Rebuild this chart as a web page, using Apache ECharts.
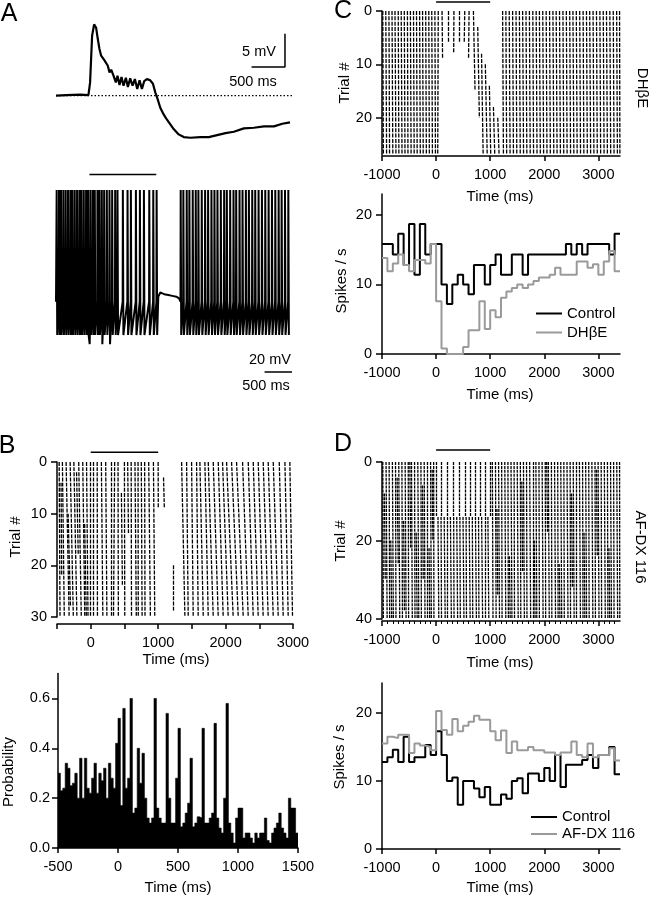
<!DOCTYPE html>
<html>
<head>
<meta charset="utf-8">
<script src="https://cdn.jsdelivr.net/npm/echarts@6/dist/echarts.min.js"></script>
<style>
  html, body { margin: 0; padding: 0; background: #fff; }
  #chart { width: 649px; height: 899px; }
</style>
</head>
<body>
<div id="chart"></div>
<script>
// ---------- Panel A: averaged membrane potential (ms, mV) ----------
const traceT = [-500, -340, -140, -15, 10, 40, 70, 100, 125, 150, 175, 200, 225, 250, 275, 300, 325, 360, 395, 420,
  450, 480, 510, 545, 575, 610, 645, 680, 715, 750, 785, 820, 860, 910, 950, 985, 1020, 1060, 1110, 1160,
  1210, 1260, 1335, 1410, 1510, 1660, 1785, 1910, 2035, 2160, 2310, 2460, 2610, 2760, 2885, 3000];
const traceV = [0, 0.1, 0.15, 0.1, 2, 9, 10.7, 10.2, 8.5, 7.0, 6.0, 6.2, 5.3, 5.5, 4.5, 3.5, 3.9, 3.0, 2.0, 3.0,
  1.6, 2.8, 1.5, 2.7, 1.3, 2.6, 1.5, 2.5, 1.0, 2.3, 1.0, 2.2, 2.5, 2.3, 1.8, 0.5, -0.5, -1.8, -2.8, -3.6,
  -4.3, -5.0, -5.8, -6.2, -6.3, -6.2, -6.2, -5.9, -5.6, -5.4, -4.9, -4.8, -4.6, -4.6, -4.2, -4.0];

// Panel A: whole-cell spiking (spike times in ms)
const spikeTimesA = [-490, -455, -425, -390, -355, -320, -285, -255, -220, -185, -150, -120, -85, -50, -20, 15, 50, 80,
  120, 150, 185, 220, 260, 300, 340, 385, 420, 500, 570, 620, 695, 755, 815, 895, 955, 1005,
  1365, 1405, 1455, 1495, 1545, 1590, 1630, 1680, 1730, 1775, 1825, 1870, 1915, 1965, 2015, 2055, 2105,
  2155, 2195, 2245, 2290, 2340, 2385, 2435, 2480, 2530, 2580, 2630, 2680, 2730, 2780, 2830, 2875, 2925, 2975];
const deepDipsA = [[4, -75.5], [193, -75.5], [308, -75.5]];
const plateauA = [[1030, -47], [1060, -44.5], [1090, -45], [1120, -45.5], [1180, -46], [1240, -46.5], [1300, -47], [1340, -48]];

// ---------- Panel B ----------
// raster columns: [time at first trial, time at last trial, first trial, last trial]
const rasterB = [
  [-468, -455, 0, 30], [-420, -392, 0, 30], [-365, -320, 0, 30], [-305, -258, 0, 30], [-250, -205, 0, 30],
  [-178, -140, 0, 30], [-118, -88, 0, 30], [-62, -40, 0, 30], [-14, -8, 0, 30],
  [-440, -430, 4, 22], [-335, -300, 10, 28], [-210, -185, 2, 18], [-90, -65, 12, 30],
  [38, 42, 0, 30], [96, 100, 0, 30], [158, 180, 0, 30], [222, 240, 0, 30], [298, 302, 0, 30], [355, 338, 0, 30],
  [405, 410, 0, 30], [455, 470, 6, 24], [500, 505, 0, 30], [548, 560, 0, 14], [600, 605, 0, 30], [656, 676, 0, 30],
  [702, 705, 0, 30], [750, 762, 0, 30], [800, 805, 0, 30], [860, 885, 0, 30], [930, 950, 0, 30], [1000, 1002, 0, 9],
  [1080, 1092, 3, 9], [1228, 1228, 20, 29],
  [1348, 1397, 0, 30], [1422, 1446, 0, 30], [1496, 1520, 0, 30], [1570, 1594, 0, 30], [1619, 1669, 0, 30],
  [1693, 1743, 0, 30], [1743, 1817, 0, 30], [1817, 1891, 0, 30], [1891, 1965, 0, 30], [1955, 2039, 0, 30],
  [2015, 2113, 0, 30], [2089, 2188, 0, 30], [2163, 2262, 0, 30], [2252, 2336, 0, 30], [2336, 2410, 0, 30],
  [2410, 2484, 0, 30], [2484, 2558, 0, 30], [2558, 2632, 0, 30], [2632, 2707, 0, 30], [2707, 2781, 0, 30],
  [2796, 2855, 0, 30], [2880, 2929, 0, 30], [2953, 2993, 0, 30]
];
// spike probability per 20 ms bin, from -500 ms
const histStartB = -500, histBinB = 20;
const histB = [
  0.30, 0.23, 0.24, 0.34, 0.32, 0.25, 0.26, 0.30, 0.20, 0.36, 0.20, 0.36, 0.24, 0.22, 0.28, 0.34, 0.22, 0.30, 0.27, 0.32, 0.20, 0.34, 0.28, 0.24, 0.42,
  0.52, 0.17, 0.56, 0.24, 0.28, 0.60, 0.14, 0.16, 0.40, 0.26, 0.38, 0.20, 0.12, 0.10, 0.12, 0.60, 0.16, 0.12, 0.10, 0.10, 0.54, 0.20, 0.10, 0.10, 0.28,
  0.48, 0.085, 0.10, 0.14, 0.18, 0.36, 0.085, 0.10, 0.125, 0.12, 0.48, 0.10, 0.10, 0.12, 0.14, 0.50, 0.12, 0.08, 0.06, 0.20, 0.58, 0.10, 0.06, 0.02, 0.12,
  0.16, 0.16, 0.04, 0.06, 0.06, 0.04, 0.02, 0.06, 0.04, 0.06, 0.06, 0.12, 0.03, 0.02, 0.06, 0.08, 0.10, 0.14, 0.08, 0.06, 0.04, 0.20, 0.16, 0.16, 0.06
];

// ---------- Panel C ----------
const rasterC = [
  [-985, -975, 0, 27], [-930, -915, 0, 27], [-872, -860, 0, 27], [-815, -800, 0, 27], [-760, -742, 0, 27], [-700, -688, 0, 27],
  [-645, -630, 0, 27], [-588, -575, 0, 27], [-530, -520, 0, 27], [-475, -462, 0, 27], [-418, -405, 0, 27], [-362, -350, 0, 27],
  [-305, -292, 0, 27], [-250, -238, 0, 27], [-192, -180, 0, 27], [-135, -125, 0, 27], [-80, -68, 0, 27], [-22, -12, 0, 27],
  [40, 30, 0, 27], [110, 120, 0, 9], [230, 230, 0, 6], [330, 325, 0, 8], [430, 435, 0, 6], [530, 520, 0, 6], [610, 600, 0, 9],
  [690, 720, 0, 15], [770, 800, 3, 20], [840, 870, 8, 27], [910, 945, 10, 27], [985, 1010, 14, 27], [1060, 1085, 18, 27], [1140, 1165, 20, 27],
  [1230, 1245, 0, 27], [1290, 1305, 0, 27], [1352, 1368, 0, 27], [1415, 1430, 0, 27], [1478, 1492, 0, 27], [1540, 1556, 0, 27],
  [1600, 1617, 0, 27], [1662, 1678, 0, 27], [1725, 1740, 0, 27], [1788, 1802, 0, 27], [1850, 1866, 0, 27], [1910, 1927, 0, 27],
  [1972, 1988, 0, 27], [2035, 2050, 0, 27], [2098, 2112, 0, 27], [2160, 2176, 0, 27], [2220, 2237, 0, 27], [2282, 2298, 0, 27],
  [2345, 2360, 0, 27], [2408, 2422, 0, 27], [2470, 2486, 0, 27], [2530, 2547, 0, 27], [2592, 2608, 0, 27], [2655, 2670, 0, 27],
  [2718, 2732, 0, 27], [2780, 2796, 0, 27], [2840, 2857, 0, 27], [2902, 2918, 0, 27], [2965, 2980, 0, 27], [3028, 3042, 0, 27],
  [3090, 3106, 0, 27], [3150, 3167, 0, 27], [3212, 3228, 0, 27], [3275, 3290, 0, 27], [3338, 3352, 0, 27], [3392, 3398, 0, 27]
];
const drugTrialsC = [2.2, 27];
// PSTH, 100 ms bins from -1000 ms (spikes / s)
const psthStart = -1000, psthBin = 100;
const controlC = [15.8, 15.8, 14.3, 17.3, 12.8, 18.7, 11.4, 18.7, 14.3, 15.8, 15.8, 10.0, 7.2, 10.0, 11.4, 10.0, 8.6, 12.8, 12.8, 10.0, 12.8, 14.3,
  11.4, 11.4, 14.3, 14.3, 11.4, 14.3, 14.3, 14.3, 14.3, 14.3, 14.3, 14.3, 15.8, 14.3, 15.8, 14.3, 15.8, 15.8, 15.8, 15.8, 14.3, 17.3];
const dhbeC = [13.8, 11.9, 13.0, 14.3, 12.8, 11.9, 13.5, 13.5, 13.0, 15.8, 7.6, 0.8, 0, 0, 0, 1.0, 3.4, 3.4, 7.6, 3.6, 6.3, 5.3,
  8.1, 9.0, 9.5, 10.0, 9.5, 10.0, 10.5, 11.0, 11.0, 11.4, 12.4, 11.4, 11.4, 11.4, 13.3, 13.3, 12.4, 12.9, 11.4, 13.3, 14.8, 11.9];

// ---------- Panel D ----------
const rasterD = [
  [-985, -975, 0, 40], [-925, -905, 0, 40], [-868, -858, 0, 40], [-808, -790, 0, 40], [-750, -742, 0, 40], [-690, -672, 0, 40],
  [-632, -622, 0, 40], [-572, -555, 0, 40], [-515, -508, 0, 40], [-455, -440, 0, 40], [-398, -390, 0, 40], [-338, -320, 0, 40],
  [-280, -272, 0, 40], [-220, -205, 0, 40], [-162, -155, 0, 40], [-102, -88, 0, 40], [-45, -40, 0, 40],
  [-955, -940, 8, 30], [-838, -820, 20, 40], [-720, -700, 4, 26], [-600, -585, 15, 38], [-485, -470, 0, 22],
  [-368, -350, 18, 40], [-250, -238, 6, 30], [-130, -118, 22, 40], [-72, -60, 2, 20],
  [10, 12, 0, 14], [103, 103, 0, 14], [213, 215, 0, 14], [318, 318, 0, 14], [423, 425, 0, 14], [534, 534, 0, 14],
  [626, 628, 0, 14], [719, 719, 0, 14], [811, 813, 0, 14], [903, 903, 0, 14], [996, 998, 0, 14],
  [35, 50, 14, 40], [92, 100, 14, 40], [150, 168, 14, 40], [208, 215, 14, 40], [265, 282, 14, 40], [325, 332, 14, 40],
  [382, 398, 14, 40], [440, 448, 14, 40], [498, 515, 14, 40], [555, 562, 14, 40], [612, 630, 14, 40], [670, 678, 14, 40],
  [728, 745, 14, 40], [785, 792, 14, 40], [842, 860, 14, 40], [900, 908, 14, 40], [958, 975, 14, 40],
  [1040, 1052, 0, 40], [1098, 1110, 0, 40], [1155, 1172, 0, 40], [1212, 1220, 0, 40], [1270, 1288, 0, 40], [1328, 1336, 0, 40],
  [1385, 1402, 0, 40], [1442, 1450, 0, 40], [1500, 1518, 0, 40], [1558, 1566, 0, 40], [1615, 1632, 0, 40], [1672, 1680, 0, 40],
  [1730, 1748, 0, 40], [1788, 1796, 0, 40], [1845, 1862, 0, 40], [1902, 1910, 0, 40], [1960, 1978, 0, 40], [2018, 2026, 0, 40],
  [2075, 2092, 0, 40], [2132, 2140, 0, 40], [2190, 2208, 0, 40], [2248, 2256, 0, 40], [2305, 2322, 0, 40], [2362, 2370, 0, 40],
  [2420, 2438, 0, 40], [2478, 2486, 0, 40], [2535, 2552, 0, 40], [2592, 2600, 0, 40], [2650, 2668, 0, 40], [2708, 2716, 0, 40],
  [2765, 2782, 0, 40], [2822, 2830, 0, 40], [2880, 2898, 0, 40], [2938, 2946, 0, 40], [2995, 3012, 0, 40], [3052, 3060, 0, 40],
  [3110, 3128, 0, 40], [3168, 3176, 0, 40], [3225, 3242, 0, 40], [3282, 3290, 0, 40], [3340, 3356, 0, 40], [3392, 3396, 0, 40],
  [1125, 1140, 12, 34], [1355, 1370, 24, 40], [1585, 1600, 5, 28], [1815, 1830, 20, 40], [2045, 2060, 0, 18],
  [2275, 2290, 26, 40], [2505, 2520, 8, 32], [2735, 2750, 18, 40], [2965, 2980, 2, 24], [3195, 3210, 22, 40]
];
const drugTrialsD = [6.4, 40.8];
const controlD = [12.8, 13.5, 14.6, 12.8, 16.5, 12.8, 13.5, 13.5, 15.3, 13.8, 17.3, 13.8, 10.0, 10.5, 6.5, 10.0, 10.0, 8.9, 7.6, 9.1, 6.5, 6.5,
  8.0, 7.4, 10.0, 10.4, 8.2, 11.1, 11.1, 10.0, 11.9, 10.0, 13.8, 9.1, 12.4, 12.4, 12.4, 13.1, 13.8, 11.9, 13.8, 13.8, 15.0, 11.0];
const afdxD = [15.5, 16.5, 16.3, 16.8, 16.8, 14.1, 15.5, 15.2, 15.0, 14.5, 20.3, 17.5, 16.8, 19.1, 17.3, 18.1, 18.7, 19.6, 19.0, 19.0, 17.3, 16.0,
  17.4, 14.1, 15.8, 14.5, 14.5, 15.0, 14.5, 14.5, 14.2, 14.2, 13.8, 14.2, 14.2, 15.8, 13.8, 13.5, 15.5, 13.5, 13.8, 13.8, 14.8, 13.0];

const stim = [0, 1000];

// ---------- helpers ----------
const FONT = '"Liberation Sans", Arial, sans-serif';
const axisStyle = { color: '#000', width: 1.5 };
const plain = v => String(v);

function xAx(grid, min, max, ticks, labels, extra) {
  return Object.assign({
    type: 'value', gridIndex: grid, min: min, max: max, position: 'bottom',
    axisLine: { show: true, onZero: false, lineStyle: axisStyle },
    axisTick: { show: true, length: 5, customValues: ticks, lineStyle: axisStyle },
    axisLabel: { customValues: labels, margin: 11, color: '#000', fontSize: 14.5, fontFamily: FONT, formatter: plain },
    splitLine: { show: false }
  }, extra || {});
}
function yAx(grid, min, max, ticks, extra) {
  return Object.assign({
    type: 'value', gridIndex: grid, min: min, max: max, position: 'left',
    axisLine: { show: true, onZero: false, lineStyle: axisStyle },
    axisTick: { show: true, length: 6, customValues: ticks, lineStyle: axisStyle },
    axisLabel: { customValues: ticks, margin: 10, color: '#000', fontSize: 14.5, fontFamily: FONT, formatter: plain },
    splitLine: { show: false }
  }, extra || {});
}
const hidden = (grid, min, max) => ({ type: 'value', gridIndex: grid, min: min, max: max, show: false });

function steps(start, bin, vals) {
  const d = vals.map((v, i) => [start + i * bin, v]);
  d.push([start + vals.length * bin, vals[vals.length - 1]]);
  return d;
}
function rasterData(cols) {
  return cols.map(c => ({ coords: [[c[0], c[2]], [c[1], c[3]]] }));
}
function buildTraceA() {
  const pts = [[-500, -50]];
  spikeTimesA.forEach(t => { pts.push([t - 3, -50], [t, 17], [t + 8, -70]); });
  deepDipsA.forEach(p => pts.push(p));
  plateauA.forEach(p => pts.push(p));
  pts.sort((a, b) => a[0] - b[0]);
  return pts;
}
function plainLine(xi, data, color, width, extra) {
  return Object.assign({
    type: 'line', xAxisIndex: xi, yAxisIndex: xi, data: data, showSymbol: false, symbol: 'none',
    lineStyle: { color: color, width: width }, itemStyle: { color: color }, animation: false, silent: true
  }, extra || {});
}
function raster(xi, cols, dash) {
  return {
    type: 'lines', coordinateSystem: 'cartesian2d', xAxisIndex: xi, yAxisIndex: xi, silent: true,
    lineStyle: { color: '#000', width: 1.3, opacity: 1, type: dash }, data: rasterData(cols), animation: false
  };
}
function label(text, x, y, size, rot) {
  return {
    type: 'text', x: x, y: y, rotation: rot || 0, silent: true,
    style: { text: text, fill: '#000', font: size + 'px ' + FONT, align: 'center', verticalAlign: 'middle',
             textAlign: 'center', textVerticalAlign: 'middle' }
  };
}
const R = Math.PI / 2;

const option = {
  animation: false,
  backgroundColor: '#fff',
  grid: [
    { left: 56, top: 15.7, width: 234, height: 126.7 },
    { left: 56, top: 185, width: 234, height: 166.7 },
    { left: 57, top: 462, width: 236, height: 155 },
    { left: 58, top: 673.5, width: 240, height: 174.5 },
    { left: 382, top: 11, width: 238, height: 144 },
    { left: 382, top: 194, width: 238, height: 160 },
    { left: 382, top: 462, width: 238, height: 157 },
    { left: 382, top: 683, width: 238, height: 166 }
  ].map(g => Object.assign(g, { containLabel: false, outerBoundsMode: 'none' })),
  xAxis: [
    hidden(0, -500, 3000),
    hidden(1, -500, 3000),
    xAx(2, -500, 3000, [-500, 0, 500, 1000, 1500, 2000, 2500, 3000], [0, 1000, 2000, 3000], { offset: 7 }),
    xAx(3, -500, 1500, [-500, 0, 500, 1000, 1500], [-500, 0, 500, 1000, 1500]),
    xAx(4, -1000, 3400, [-1000, 0, 1000, 2000, 3000], [-1000, 0, 1000, 2000, 3000], { offset: 1 }),
    xAx(5, -1000, 3400, [-1000, 0, 1000, 2000, 3000], [-1000, 0, 1000, 2000, 3000]),
    xAx(6, -1000, 3400, [-1000, 0, 1000, 2000, 3000], [-1000, 0, 1000, 2000, 3000],
        { offset: 2, minorTick: { show: true, splitNumber: 10, length: 3, lineStyle: { color: '#000', width: 1 } } }),
    xAx(7, -1000, 3400, [-1000, 0, 1000, 2000, 3000], [-1000, 0, 1000, 2000, 3000])
  ],
  yAxis: [
    hidden(0, -7, 12),
    hidden(1, -80, 20),
    yAx(2, 0, 30, [0, 10, 20, 30], { inverse: true }),
    yAx(3, 0, 0.7, [0, 0.2, 0.4, 0.6], { axisLabel: { customValues: [0, 0.2, 0.4, 0.6], margin: 8, color: '#000', fontSize: 14.5, fontFamily: FONT, formatter: v => v.toFixed(1) } }),
    yAx(4, 0, 27, [0, 10, 20], { inverse: true }),
    yAx(5, 0, 23, [0, 10, 20]),
    yAx(6, 0, 40, [0, 20, 40], { inverse: true }),
    yAx(7, 0, 24.4, [0, 10, 20])
  ],
  legend: [
    { data: ['Control', 'DHβE'], orient: 'vertical', left: 531, top: 300, itemWidth: 26, itemHeight: 2, icon: 'rect',
      itemGap: 2, textStyle: { fontSize: 15, fontFamily: FONT, color: '#000', lineHeight: 17 }, selectedMode: false },
    { data: ['Control', 'AF-DX 116'], orient: 'vertical', left: 526, top: 803.5, itemWidth: 26, itemHeight: 2, icon: 'rect',
      itemGap: 0, textStyle: { fontSize: 15, fontFamily: FONT, color: '#000', lineHeight: 17 }, selectedMode: false }
  ],
  series: [
    // A
    plainLine(0, traceT.map((t, i) => [t, traceV[i]]), '#000', 2.2),
    plainLine(0, [[-500, 0], [3050, 0]], '#000', 1.2, { lineStyle: { color: '#000', width: 1.2, type: [1.5, 2] }, clip: false }),
    plainLine(0, [[2425, 4.3], [2925, 4.3], [2925, 9.3]], '#000', 1.5, { clip: false }),
    plainLine(1, buildTraceA(), '#000', 2),
    plainLine(1, [[stim[0], 26.3], [stim[1], 26.3]], '#000', 1.5, { clip: false }),
    plainLine(1, [[2620, -92.2], [3120, -92.2], [3120, -72.2]], '#000', 1.5, { clip: false }),
    // B
    plainLine(2, [[stim[0], -1.9], [stim[1], -1.9]], '#000', 1.5, { clip: false }),
    raster(2, rasterB, [3.9, 1.27]),
    plainLine(3, steps(histStartB, histBinB, histB), '#000', 0.6, { step: 'end', areaStyle: { color: '#000', opacity: 1 } }),
    // C
    plainLine(4, [[stim[0], -1.7], [stim[1], -1.7]], '#000', 1.5, { clip: false }),
    raster(4, rasterC, [4, 1.33]),
    plainLine(4, [[3585, drugTrialsC[0]], [3585, drugTrialsC[1]]], '#000', 1.5, { clip: false }),
    plainLine(5, steps(psthStart, psthBin, controlC), '#000', 2, { name: 'Control', step: 'end' }),
    plainLine(5, steps(psthStart, psthBin, dhbeC), '#9a9a9a', 2, { name: 'DHβE', step: 'end' }),
    // D
    plainLine(6, [[stim[0], -3.05], [stim[1], -3.05]], '#000', 1.5, { clip: false }),
    raster(6, rasterD, [3, 0.925]),
    plainLine(6, [[3530, drugTrialsD[0]], [3530, drugTrialsD[1]]], '#000', 1.5, { clip: false }),
    plainLine(7, steps(psthStart, psthBin, controlD), '#000', 2, { name: 'Control', step: 'end' }),
    plainLine(7, steps(psthStart, psthBin, afdxD), '#9a9a9a', 2, { name: 'AF-DX 116', step: 'end' })
  ],
  graphic: [
    label('A', 9, 14, 25), label('B', 7, 446, 25), label('C', 343, 11, 25), label('D', 343, 444, 25),
    label('5 mV', 259, 52, 14.5), label('500 ms', 253, 82, 14.5),
    label('20 mV', 270, 360, 14.5), label('500 ms', 266, 386, 14.5),
    label('Trial #', 16, 537, 15, R), label('Time (ms)', 176, 660, 15),
    label('Probability', 9, 772, 15, R), label('Time (ms)', 178, 888, 15),
    label('Trial #', 345, 83, 15, R), label('Time (ms)', 500, 197, 15),
    label('Spikes / s', 342, 281, 15, R), label('Time (ms)', 500, 395, 15),
    label('DHβE', 642, 88, 15, -R),
    label('Trial #', 341, 541, 15, R), label('Time (ms)', 500, 663, 15),
    label('Spikes / s', 340, 757, 15, R), label('Time (ms)', 500, 888, 15),
    label('AF-DX 116', 640, 547, 15, -R)
  ]
};

const chart = echarts.init(document.getElementById('chart'), null, { renderer: 'canvas' });
chart.setOption(option);
</script>
</body>
</html>
